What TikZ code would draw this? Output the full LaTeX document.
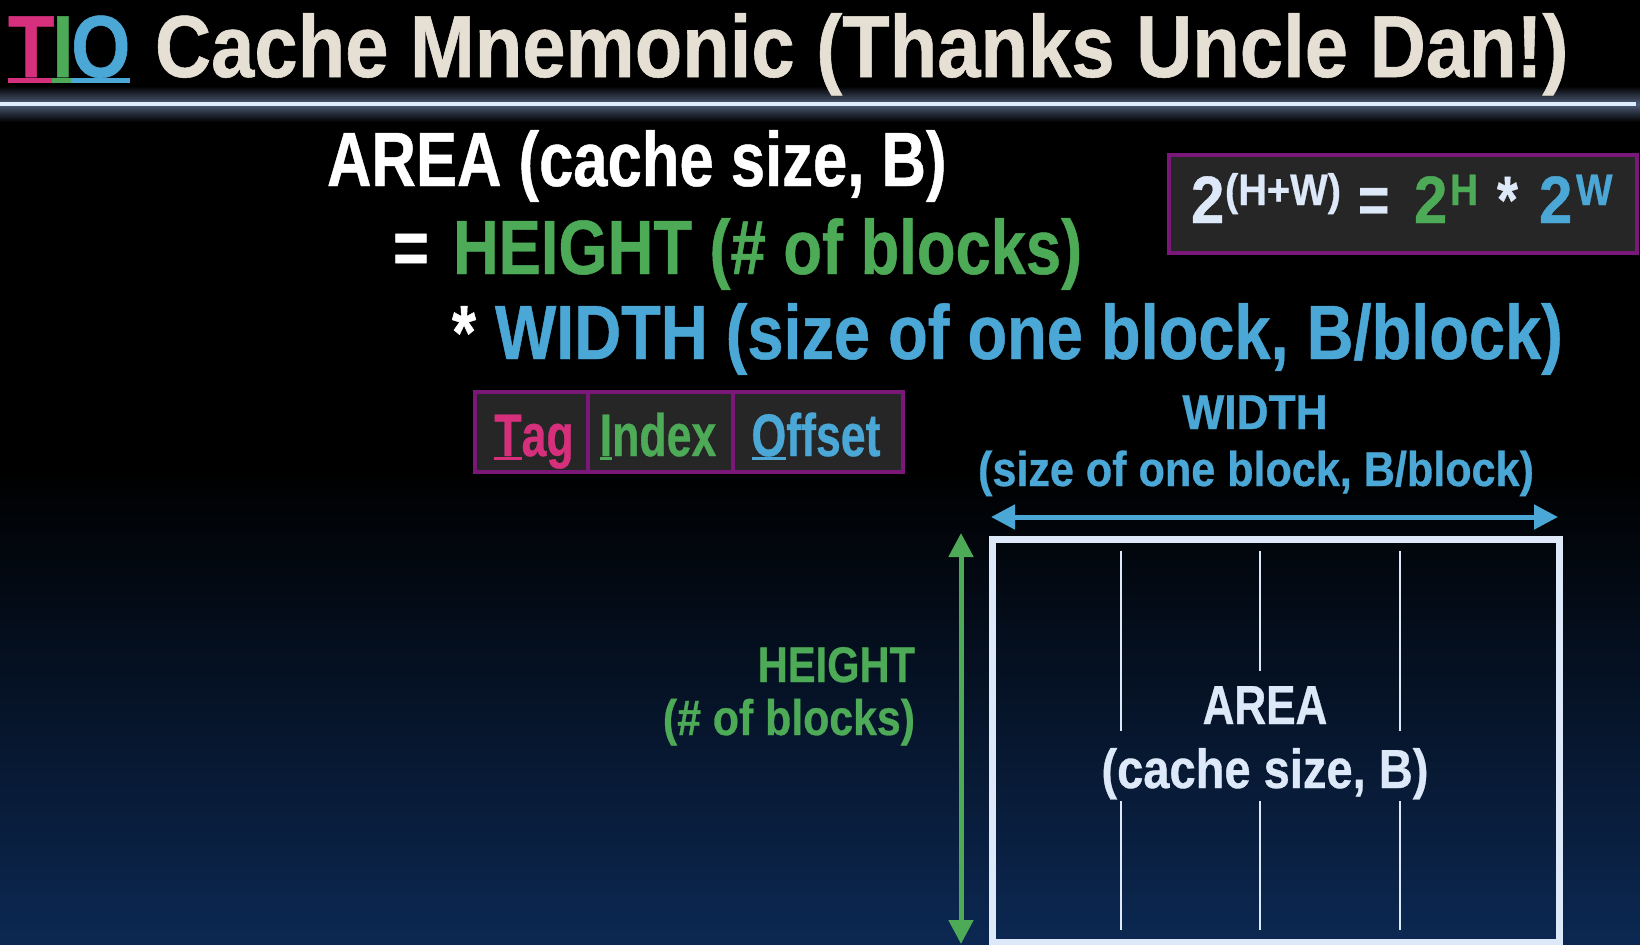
\documentclass[tikz,border=0pt]{standalone}
\usepackage{graphicx}
\usepackage{fontspec}
\setmainfont{Liberation Sans}[FakeStretch=0.8, BoldFeatures={FakeStretch=0.8, FakeBold=0.6}]
\usetikzlibrary{arrows.meta}

\definecolor{titlecol}{RGB}{230,223,212}
\definecolor{paleblue}{RGB}{221,233,248}
\definecolor{grn}{RGB}{77,170,87}
\definecolor{blu}{RGB}{74,167,214}
\definecolor{mag}{RGB}{214,48,125}
\definecolor{plum}{RGB}{122,24,122}
\definecolor{boxgray}{RGB}{38,38,38}
\definecolor{navy}{RGB}{12,40,82}
\definecolor{glow}{RGB}{78,92,120}
\definecolor{core}{RGB}{222,236,255}

% bold condensed text at a given size
\newcommand\fsz[1]{\fontsize{#1}{#1}\selectfont\bfseries}
% horizontal stretch of a text
\newcommand\hs[2]{\scalebox{#1}[1]{#2}}
% underlined initial letter
\newcommand\ulet[1]{\leavevmode\setbox0\hbox{#1}\rlap{\rule[-0.07em]{\wd0}{0.055em}}\box0}

\begin{document}
\begin{tikzpicture}[x=0.5pt,y=-0.5pt,
  txt/.style={inner sep=0pt, outer sep=0pt, anchor=base west},
  ctxt/.style={inner sep=0pt, outer sep=0pt, anchor=base},
  rtxt/.style={inner sep=0pt, outer sep=0pt, anchor=base east},
  framebox/.style={draw=plum, line width=1.75pt, fill=boxgray, inner sep=0pt},
  dimarrow/.style={line width=2.5pt, {Triangle[length=12pt,width=12pt]}-{Triangle[length=12pt,width=12pt]}},
  divider/.style={draw=paleblue, line width=1.2pt}]
\useasboundingbox (0,0) rectangle (1640,944);

% background
\fill[black] (0,0) rectangle (1640,944);
\shade[top color=black, bottom color=navy] (0,470) rectangle (1640,944);

% glowing rule under the title
\shade[top color=black, bottom color=black, middle color=glow] (0,86) rectangle (1640,122);
\draw[core, line width=2pt] (0,104) -- (1636,104);

% title
\node[txt] (tio) at (8,77) {\fsz{44}\hs{1.08}{\color{mag}\ulet{T}\kern-1pt\color{grn}\ulet{I}\kern-1pt\color{blu}\ulet{O}}};
\node[txt, text=titlecol] (title) at (155,77) {\fsz{44}\hs{1.105}{Cache Mnemonic (Thanks Uncle Dan!)}};

% the mnemonic
\node[txt, text=white] (areal) at (327,186) {\fsz{38.5}AREA (cache size, B)};
\node[txt, text=white] (eq) at (393,274) {\fsz{38.5}=};
\node[txt, text=grn] (heightl) at (453,274) {\fsz{38.5}\hs{1.027}{HEIGHT (\# of blocks)}};
\node[txt, text=white] (star) at (452,359) {\fsz{38.5}*};
\node[txt, text=blu] (widthl) at (495,359) {\fsz{38.5}\hs{1.054}{WIDTH (size of one block, B/block)}};

% power identity
\node[framebox, minimum width=234pt, minimum height=49pt] (formbox) at (1403,204) {};
\node[txt, text=paleblue] (fa) at (1191,223) {\fsz{33.5}\hs{1.12}{2}};
\node[txt, text=paleblue] (fsa) at (1225,205) {\fsz{22}\hs{1.13}{(H+W)}};
\node[txt, text=paleblue] (feq) at (1358,223) {\fsz{33.5}=};
\node[txt, text=grn] (fb) at (1414,223) {\fsz{33.5}\hs{1.12}{2}};
\node[txt, text=grn] (fsb) at (1450,205) {\fsz{22}\hs{1.1}{H}};
\node[txt, text=paleblue] (fst) at (1497,223) {\fsz{33.5}*};
\node[txt, text=blu] (fc) at (1539,223) {\fsz{33.5}\hs{1.12}{2}};
\node[txt, text=blu] (fsc) at (1576,205) {\fsz{22}\hs{1.1}{W}};

% address fields
\node[framebox, minimum width=56.5pt, minimum height=40pt] (tagc) at (531.5,432) {};
\node[framebox, minimum width=72.5pt, minimum height=40pt] (idxc) at (660.5,432) {};
\node[framebox, minimum width=85pt, minimum height=40pt] (offc) at (818,432) {};
\node[ctxt, text=mag] (tagt) at (534,456) {\fsz{30}\hs{0.93}{\ulet{T}ag}};
\node[ctxt, text=grn] (idxt) at (658,456) {\fsz{30}\hs{0.93}{\ulet{I}ndex}};
\node[ctxt, text=blu] (offt) at (816,456) {\fsz{30}\hs{0.93}{\ulet{O}ffset}};

% width label and arrow
\node[ctxt, text=blu] (wlab1) at (1255,429) {\fsz{24.5}\hs{1.13}{WIDTH}};
\node[ctxt, text=blu] (wlab2) at (1256,486) {\fsz{24.5}\hs{1.1}{(size of one block, B/block)}};
\coordinate (wleft) at (991,517);
\coordinate (wright) at (1558,517);
\draw[dimarrow, blu] (wleft) -- (wright);

% height label and arrow
\node[rtxt, text=grn] (hlab1) at (915,682) {\fsz{25}\hs{1.04}{HEIGHT}};
\node[rtxt, text=grn] (hlab2) at (915,735) {\fsz{25}\hs{1.07}{(\# of blocks)}};
\coordinate (htop) at (961,533);
\coordinate (hbot) at (961,944);
\draw[dimarrow, grn] (htop) -- (hbot);

% the cache as a rectangle of blocks
\node[draw=paleblue, line width=3.5pt, minimum width=283.5pt, minimum height=201.5pt, inner sep=0pt] (cache) at (1275.5,740.5) {};
\draw[divider] (1121,551) -- (1121,731) (1121,801) -- (1121,930);
\draw[divider] (1260,551) -- (1260,671) (1260,801) -- (1260,930);
\draw[divider] (1400,551) -- (1400,731) (1400,801) -- (1400,930);
\node[ctxt, text=paleblue] (cachea) at (1265,724) {\fsz{27.5}AREA};
\node[ctxt, text=paleblue] (cacheb) at (1265,788) {\fsz{27.5}\hs{1.07}{(cache size, B)}};
\end{tikzpicture}
\end{document}
